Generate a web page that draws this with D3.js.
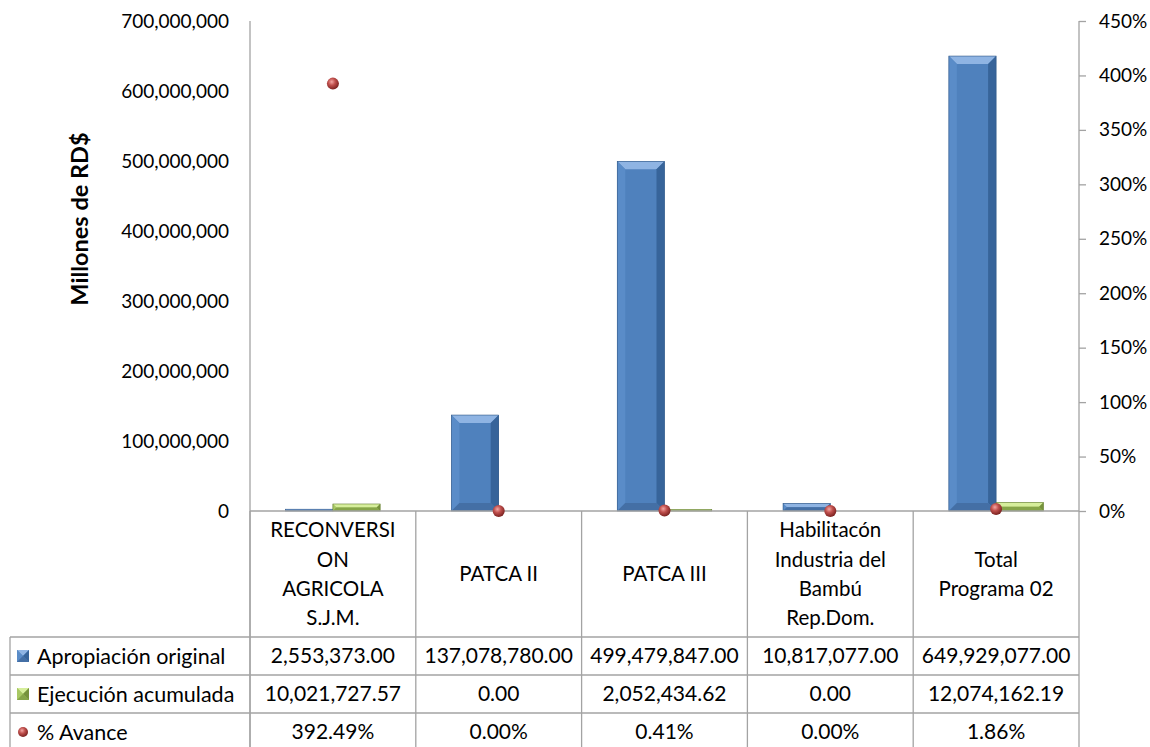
<!DOCTYPE html>
<html>
<head>
<meta charset="utf-8">
<script src="https://cdn.jsdelivr.net/npm/d3@7/dist/d3.min.js"></script>
<style>
  body { margin: 0; background: #fff; }
  text { font-family: Lato, "Open Sans", sans-serif; fill: #000; }
</style>
</head>
<body>
<svg width="1150" height="747"></svg>
<script>
// data
var categories = ['RECONVERSION AGRICOLA S.J.M.', 'PATCA II', 'PATCA III',
  'Habilitacón Industria del Bambú Rep.Dom.', 'Total Programa 02'];
var categoryLines = [
  ['RECONVERSI', 'ON', 'AGRICOLA', 'S.J.M.'],
  ['PATCA II'],
  ['PATCA III'],
  ['Habilitacón', 'Industria del', 'Bambú', 'Rep.Dom.'],
  ['Total', 'Programa 02']
];
var apropiacion = [2553373.00, 137078780.00, 499479847.00, 10817077.00, 649929077.00];
var ejecucion = [10021727.57, 0.00, 2052434.62, 0.00, 12074162.19];
var avance = [392.49, 0.00, 0.41, 0.00, 1.86];
var seriesNames = ['Apropiación original', 'Ejecución acumulada', '% Avance'];
var leftTicks = [0, 100000000, 200000000, 300000000, 400000000, 500000000, 600000000, 700000000];
var rightTicks = [0, 50, 100, 150, 200, 250, 300, 350, 400, 450];

var svg = d3.select('svg');

var plot = { left: 250, right: 1079, top: 21, bottom: 511 };
var rowTops = [637, 675, 713, 751];
var tableLeft = 10;
var gridColor = '#a3a3a3';

// gradients
var defs = svg.append('defs');
var ball = defs.append('radialGradient').attr('id', 'ball')
  .attr('cx', '40%').attr('cy', '35%').attr('r', '65%');
ball.append('stop').attr('offset', '0%').attr('stop-color', '#f4a7a4');
ball.append('stop').attr('offset', '45%').attr('stop-color', '#c0504d');
ball.append('stop').attr('offset', '100%').attr('stop-color', '#7b2220');

var blueSet = { mid: '#4f81bd', top: '#8fb4e3', left: '#5a8cc8', right: '#37649a', bottom: '#446fa5' };
var greenSet = { mid: '#9bbb59', top: '#d6ee9b', left: '#a8c864', right: '#76923c', bottom: '#86a548' };

var x0 = d3.scaleBand()
  .domain(categories)
  .range([plot.left, plot.right]);

var barW = x0.bandwidth() * 0.285;

var x1 = d3.scaleBand()
  .domain(['apropiacion', 'ejecucion'])
  .range([x0.bandwidth() / 2 - barW, x0.bandwidth() / 2 + barW]);

var y = d3.scaleLinear()
  .domain([0, 700000000])
  .range([plot.bottom, plot.top]);

var yPct = d3.scaleLinear()
  .domain([0, 450])
  .range([plot.bottom, plot.top]);

//* bevelled bar, drawn from a rect taken off the scales
function bevelBar(g, bx, by, bw, bh, c) {
  g.append('rect').attr('x', bx).attr('y', by).attr('width', bw).attr('height', bh)
    .attr('fill', c.mid);
  var b = Math.min(8, bw / 2, bh / 2);
  if (b < 1) {
    g.append('rect').attr('x', bx).attr('y', by).attr('width', bw).attr('height', Math.max(bh / 2, 0.5))
      .attr('fill', c.top);
    return;
  }
  var pts = function (p) { return p.map(function (q) { return q.join(','); }).join(' '); };
  g.append('polygon').attr('fill', c.top)
    .attr('points', pts([[bx, by], [bx + bw, by], [bx + bw - b, by + b], [bx + b, by + b]]));
  g.append('polygon').attr('fill', c.left)
    .attr('points', pts([[bx, by], [bx + b, by + b], [bx + b, by + bh - b], [bx, by + bh]]));
  g.append('polygon').attr('fill', c.right)
    .attr('points', pts([[bx + bw, by], [bx + bw, by + bh], [bx + bw - b, by + bh - b], [bx + bw - b, by + b]]));
  g.append('polygon').attr('fill', c.bottom)
    .attr('points', pts([[bx, by + bh], [bx + b, by + bh - b], [bx + bw - b, by + bh - b], [bx + bw, by + bh]]));
}

// bars
var bars = svg.append('g');
categories.forEach(function (cat, i) {
  var vals = [['apropiacion', apropiacion[i], blueSet], ['ejecucion', ejecucion[i], greenSet]];
  vals.forEach(function (v) {
    if (v[1] <= 0) return;
    var bx = x0(cat) + x1(v[0]);
    var by = y(v[1]);
    var bh = y(0) - by;
    var g = bars.append('g');
    bevelBar(g, bx, by, x1.bandwidth(), bh, v[2]);
    g.append('rect').attr('x', bx).attr('y', by).attr('width', x1.bandwidth()).attr('height', bh)
      .attr('fill', 'none').attr('stroke', d3.color(v[2].right).darker(0.4)).attr('stroke-width', 0.6);
  });
});

// axes
var leftAxis = d3.axisLeft(y)
  .tickValues(leftTicks)
  .tickSize(0)
  .tickPadding(21)
  .tickFormat(d3.format(','));

var gl = svg.append('g').attr('transform', 'translate(' + plot.left + ',0)').call(leftAxis);
gl.select('.domain').remove();
gl.selectAll('text').style('font-size', '19px').style('font-family', 'Lato, sans-serif');

var rightAxis = d3.axisRight(yPct)
  .tickValues(rightTicks)
  .tickSize(7)
  .tickPadding(13)
  .tickFormat(function (d) { return d + '%'; });

var gr = svg.append('g').attr('transform', 'translate(' + plot.right + ',0)').call(rightAxis);
gr.select('.domain').remove();
gr.selectAll('line').attr('stroke', gridColor).attr('stroke-width', 1.3);
gr.selectAll('text').style('font-size', '19px').style('font-family', 'Lato, sans-serif');

// axis lines
svg.append('line').attr('x1', plot.left).attr('x2', plot.left)
  .attr('y1', plot.top).attr('y2', 747).attr('stroke', gridColor).attr('stroke-width', 1.3);
svg.append('line').attr('x1', plot.right).attr('x2', plot.right)
  .attr('y1', plot.top).attr('y2', 747).attr('stroke', gridColor).attr('stroke-width', 1.3);
svg.append('line').attr('x1', plot.left).attr('x2', plot.right)
  .attr('y1', y(0)).attr('y2', y(0)).attr('stroke', gridColor).attr('stroke-width', 1.3);

// axis title
svg.append('text')
  .attr('transform', 'translate(88,219) rotate(-90)')
  .attr('text-anchor', 'middle')
  .style('font-size', '23.5px')
  .style('font-weight', 'bold')
  .text('Millones de RD$');

// % avance markers
svg.append('g').selectAll('circle')
  .data(avance)
  .enter().append('circle')
  .attr('cx', function (d, i) { return x0(categories[i]) + x0.bandwidth() / 2; })
  .attr('cy', function (d) { return yPct(d); })
  .attr('r', 6)
  .attr('fill', 'url(#ball)');

// data table
var table = svg.append('g');

categories.forEach(function (cat, i) {
  table.append('line')
    .attr('x1', x0(cat)).attr('x2', x0(cat))
    .attr('y1', plot.bottom).attr('y2', 747)
    .attr('stroke', gridColor).attr('stroke-width', 1.3);
  var lines = categoryLines[i];
  var cx = x0(cat) + x0.bandwidth() / 2;
  var mid = (plot.bottom + rowTops[0]) / 2;
  lines.forEach(function (t, j) {
    table.append('text')
      .attr('x', cx)
      .attr('y', mid + (j - (lines.length - 1) / 2) * 29.3)
      .attr('dy', '0.35em')
      .attr('text-anchor', 'middle')
      .style('font-size', '20.5px')
      .text(t);
  });
});

rowTops.slice(0, 3).forEach(function (ry) {
  table.append('line')
    .attr('x1', tableLeft).attr('x2', plot.right)
    .attr('y1', ry).attr('y2', ry)
    .attr('stroke', gridColor).attr('stroke-width', 1.3);
});
table.append('line')
  .attr('x1', tableLeft).attr('x2', tableLeft)
  .attr('y1', rowTops[0]).attr('y2', 747)
  .attr('stroke', gridColor).attr('stroke-width', 1.3);

var fmtMoney = d3.format(',.2f');
var fmtPct = function (d) { return d3.format('.2f')(d) + '%'; };
var rows = [
  { name: seriesNames[0], values: apropiacion, fmt: fmtMoney, key: 'blue' },
  { name: seriesNames[1], values: ejecucion, fmt: fmtMoney, key: 'green' },
  { name: seriesNames[2], values: avance, fmt: fmtPct, key: 'dot' }
];

rows.forEach(function (r, k) {
  var cy = (rowTops[k] + rowTops[k + 1]) / 2;
  var key = table.append('g');
  if (r.key === 'dot') {
    key.append('circle').attr('cx', 23).attr('cy', cy).attr('r', 5).attr('fill', 'url(#ball)');
  } else {
    bevelBar(key, 17, cy - 6, 12, 12, r.key === 'blue' ? blueSet : greenSet);
  }
  table.append('text')
    .attr('x', 37).attr('y', cy).attr('dy', '0.35em')
    .style('font-size', '21.5px')
    .text(r.name);
  r.values.forEach(function (v, i) {
    table.append('text')
      .attr('x', x0(categories[i]) + x0.bandwidth() / 2)
      .attr('y', cy).attr('dy', '0.35em')
      .attr('text-anchor', 'middle')
      .style('font-size', '21px')
      .text(r.fmt(v));
  });
});
</script>
</body>
</html>
